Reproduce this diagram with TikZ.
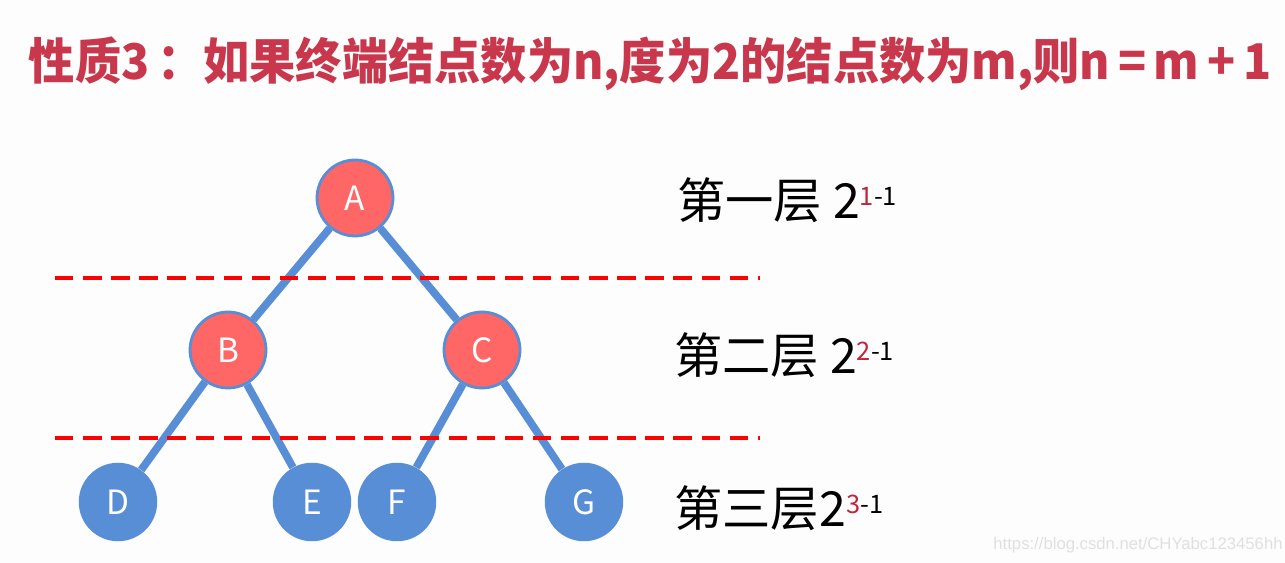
\documentclass[tikz,border=0pt]{standalone}
\usepackage{fontspec}
\setmainfont{Noto Sans CJK SC}
\newfontfamily\wmfont{Liberation Sans}
\usepackage{tikz}
\usetikzlibrary{calc}

\definecolor{nodered}{HTML}{FF6666}
\definecolor{nodeblue}{HTML}{588ED5}
\definecolor{titlered}{HTML}{C9374C}
\definecolor{supred}{HTML}{C0263A}
\definecolor{paper}{HTML}{FDFDFD}

\begin{document}
\begin{tikzpicture} [x = 0.02cm, y = -0.02cm,
    rednode/.style = {circle, draw = nodeblue, line width = 1.6pt, fill = nodered, minimum size = 1.52cm, inner sep = 0pt, text = white, font = \fontsize{19}{19}\selectfont},
    bluenode/.style = {circle, fill = nodeblue, minimum size = 1.57cm, inner sep = 0pt, text = white, font = \fontsize{19}{19}\selectfont},
    branch/.style = {nodeblue, line width = 4.4pt},
    split/.style = {red, line width = 2.3pt, dash pattern = on 10.5pt off 5.5pt},
    layer/.style = {anchor = west, inner sep = 0pt, font = \fontsize{27.5}{27.5}\selectfont}]
                \useasboundingbox (0,0) rectangle (1285,563);
                \fill [paper] (0,0) rectangle (1285,563);
                \node (title) at (650,64) [inner sep = 0pt, text = titlered, font = \bfseries\fontsize{28}{28}\selectfont] {\scalebox{0.94}[1]{性质3\,：如果终端结点数为n,度为2的结点数为m,则n\,=\,m\,+\,1}};
                % tree
                \node [rednode] (A) at (355,198) {A};
                \node [rednode] (B) at (228,350) {B};
                \node [rednode] (C) at (482,350) {C};
                \foreach \name/\x in {D/118, E/312, F/397, G/584}
                    \node [bluenode] (\name) at (\x,502) {\name};
                \foreach \from/\to in {A/B, A/C, B/D, B/E, C/F, C/G}
                    \draw [branch] (\from) -- (\to);
                % level separators
                \coordinate (s1a) at (55,278);
                \coordinate (s1b) at (760,278);
                \coordinate (s2a) at (55,438);
                \coordinate (s2b) at (760,438);
                \draw [split] (s1a) -- (s1b);
                \draw [split] (s2a) -- (s2b);
                % level labels
                \node [layer] (l1) at (677,200) {第一层 2\raisebox{7pt}{\fontsize{14.5}{14.5}\selectfont\textcolor{supred}{1}-1}};
                \node [layer] (l2) at (674,355) {第二层 2\raisebox{7pt}{\fontsize{14.5}{14.5}\selectfont\textcolor{supred}{2}-1}};
                \node [layer] (l3) at (674,508) {第三层2\raisebox{7pt}{\fontsize{14.5}{14.5}\selectfont\textcolor{supred}{3}-1}};
                \node (mark) at (1138,545) [text = black!12, font = \wmfont\fontsize{9.5}{9.5}\selectfont] {https://blog.csdn.net/CHYabc123456hh};
            \end{tikzpicture}
\end{document}
